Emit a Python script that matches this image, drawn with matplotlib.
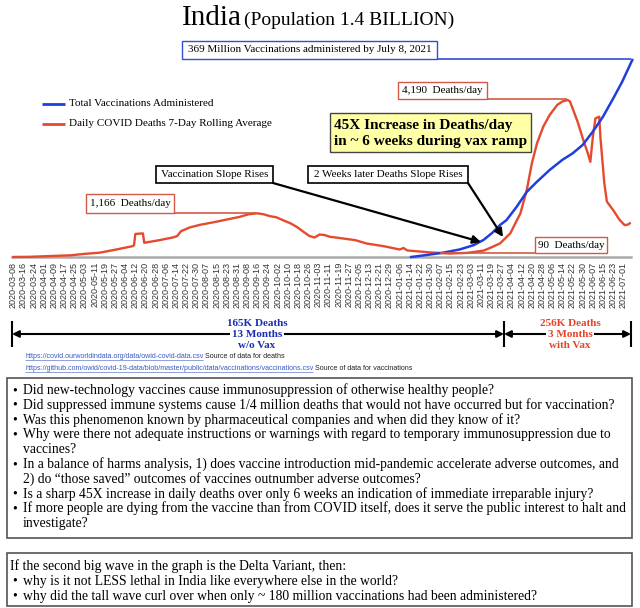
import numpy as np
import pandas as pd
import matplotlib
matplotlib.use("Agg")
import matplotlib.pyplot as plt
import matplotlib.dates as mdates
import matplotlib.transforms as mtransforms
from matplotlib.patches import Rectangle, FancyArrowPatch
from matplotlib.lines import Line2D

# ---------------- data ----------------
death_dates = [
    "2020-03-08", "2020-03-11", "2020-03-21", "2020-04-06", "2020-04-22", "2020-05-02",
    "2020-05-15", "2020-05-28", "2020-06-10", "2020-06-11", "2020-06-12", "2020-06-18",
    "2020-06-19", "2020-06-20", "2020-07-01", "2020-07-12", "2020-07-15", "2020-07-18",
    "2020-07-25", "2020-08-02", "2020-08-13", "2020-08-23", "2020-09-02", "2020-09-09",
    "2020-09-16", "2020-09-21", "2020-09-26", "2020-10-01", "2020-10-06", "2020-10-12",
    "2020-10-17", "2020-10-22", "2020-10-27", "2020-10-31", "2020-11-04", "2020-11-08",
    "2020-11-12", "2020-11-19", "2020-12-02", "2020-12-11", "2020-12-25", "2021-01-06",
    "2021-01-09", "2021-01-12", "2021-01-29", "2021-02-14", "2021-02-28", "2021-03-13",
    "2021-03-20", "2021-03-26", "2021-04-03", "2021-04-11", "2021-04-16", "2021-04-20",
    "2021-04-24", "2021-04-29", "2021-05-04", "2021-05-10", "2021-05-14", "2021-05-18",
    "2021-05-20", "2021-05-22", "2021-05-26", "2021-05-30", "2021-06-03", "2021-06-05",
    "2021-06-07", "2021-06-09", "2021-06-12", "2021-06-13", "2021-06-16", "2021-06-18",
    "2021-06-23", "2021-06-28", "2021-07-02", "2021-07-05", "2021-07-06",
]
death_values = [
    0, 2, 5, 25, 45, 80,
    115, 200, 290, 320, 615, 630,
    380, 385, 450, 525, 560, 690,
    790, 860, 930, 1000, 1070, 1140,
    1166, 1140, 1090, 1060, 985, 900,
    805, 680, 560, 520, 600, 585,
    540, 510, 450, 360, 285, 200,
    240, 175, 125, 92, 110, 170,
    270, 365, 630, 1166, 1790, 2500,
    3030, 3480, 3790, 4060, 4150, 4190,
    4150, 3970, 3610, 3170, 2770, 2540,
    3210, 3700, 3745, 3170, 1970, 1480,
    1250, 990, 850, 870, 900,
]
vax_dates = [
    "2021-01-15", "2021-01-27", "2021-02-09", "2021-02-22", "2021-03-05", "2021-03-13",
    "2021-03-20", "2021-03-26", "2021-03-31", "2021-04-08", "2021-04-16", "2021-04-24",
    "2021-05-04", "2021-05-14", "2021-05-22", "2021-05-30", "2021-06-07", "2021-06-15",
    "2021-06-23", "2021-06-30", "2021-07-08",
]
vax_millions = [
    0, 3.7, 8, 14, 22, 32,
    45.6, 60, 69, 94, 122, 141,
    163, 182, 194, 210, 235, 263,
    297, 328, 369,
]
tick_first, tick_last, tick_step = "2020-03-08", "2021-07-01", 8

title_main = "India"
title_sub = "(Population 1.4 BILLION)"
legend_labels = ["Total Vaccinations Administered", "Daily COVID Deaths 7-Day Rolling Average"]
bullets1 = [
    ("•", "Did new-technology vaccines cause immunosuppression of otherwise healthy people?"),
    ("•", "Did suppressed immune systems cause 1/4 million deaths that would not have occurred but for vaccination?"),
    ("•", "Was this phenomenon known by pharmaceutical companies and when did they know of it?"),
    ("•", "Why were there not adequate instructions or warnings with regard to temporary immunosuppression due to"),
    ("", "vaccines?"),
    ("•", "In a balance of harms analysis, 1) does vaccine introduction mid-pandemic accelerate adverse outcomes, and"),
    ("", "2) do \u201cthose saved\u201d outcomes of vaccines outnumber adverse outcomes?"),
    ("•", "Is a sharp 45X increase in daily deaths over only 6 weeks an indication of immediate irreparable injury?"),
    ("•", "If more people are dying from the vaccine than from COVID itself, does it serve the public interest to halt and"),
    ("", "investigate?"),
]
box2_head = "If the second big wave in the graph is the Delta Variant, then:"
bullets2 = [
    "why is it not LESS lethal in India like everywhere else in the world?",
    "why did the tall wave curl over when only ~ 180 million vaccinations had been administered?",
]

# ---------------- style ----------------
SERIF = ["Liberation Serif", "DejaVu Serif"]
SANS = ["Liberation Sans", "DejaVu Sans"]
RED = "#e64a2e"
RED_BOX = "#d25a44"
BLUE = "#1e3fdc"
BLUE_BOX = "#3050d0"
W, H = 640, 608

fig = plt.figure(figsize=(W / 100, H / 100), dpi=100)
px = mtransforms.Affine2D().scale(1 / W, -1 / H).translate(0, 1) + fig.transFigure

def txt(x, y, s, size, ha="left", va="center", color="k", weight="normal", family=SERIF, z=6, **kw):
    return fig.text(x, y, s, transform=px, fontsize=size, ha=ha, va=va, color=color,
                    fontweight=weight, family=family, zorder=z, **kw)

def rect(x0, y0, x1, y1, ec, fc="white", lw=1.0, z=5):
    fig.add_artist(Rectangle((x0, y0), x1 - x0, y1 - y0, transform=px, ec=ec, fc=fc, lw=lw, zorder=z))

def seg(xs, ys, color, lw, z=4):
    fig.add_artist(Line2D(xs, ys, transform=px, color=color, lw=lw, zorder=z, solid_capstyle="butt"))

def arrow(p0, p1, style="-|>", lw=1.6, ms=12, z=7):
    fig.add_artist(FancyArrowPatch(p0, p1, transform=px, arrowstyle=style, mutation_scale=ms,
                                   lw=lw, color="k", shrinkA=0, shrinkB=0, zorder=z))

# ---------------- main chart ----------------
x0_px, day_px = 13.3, 1.271
base = mdates.date2num(pd.Timestamp(tick_first))
ax = fig.add_axes([5 / W, 1 - 257 / H, 630 / W, 197 / H])
ax.set_xlim(base + (5 - x0_px) / day_px, base + (635 - x0_px) / day_px)
ax.set_ylim(0, 4190 * 197 / 157)
ax.patch.set_alpha(0)
for s in ax.spines.values():
    s.set_visible(False)
ax.set_yticks([])

ax2 = ax.twinx()
ax2.set_ylim(0, 369)
ax2.patch.set_alpha(0)
for s in ax2.spines.values():
    s.set_visible(False)
ax2.set_yticks([])

ddates = mdates.date2num(pd.to_datetime(death_dates))
vdates = mdates.date2num(pd.to_datetime(vax_dates))

ax.plot([base - 1, base + 486], [0, 0], color="#aaaaaa", lw=1.8, zorder=1, clip_on=False)
ax.plot(ddates, death_values, color=RED, lw=1.7, zorder=2, clip_on=False)
ax2.plot(vdates, vax_millions, color=BLUE, lw=1.8, zorder=3, clip_on=False)

ticks = pd.date_range(tick_first, tick_last, freq=f"{tick_step}D")
ax.set_xticks(mdates.date2num(ticks))
ax.set_xticklabels([t.strftime("%Y-%m-%d") for t in ticks], rotation=90,
                   fontsize=6.5, family=SANS, color="#333333")
ax.tick_params(axis="x", length=0, pad=3.6)

# ---------------- title ----------------
txt(182, 25, title_main, 21, va="baseline")
txt(244, 25, title_sub, 14, va="baseline")

# ---------------- annotation boxes ----------------
rect(182, 41, 437, 59, BLUE_BOX, lw=1.0)
txt(309.5, 50, "369 Million Vaccinations administered by July 8, 2021", 8, ha="center")
seg([437, 631], [59, 59], BLUE_BOX, 1.2)

rect(398, 82, 487, 99, RED_BOX, lw=1.0)
txt(442.5, 90.5, "4,190  Deaths/day", 8, ha="center")
seg([487, 567], [99, 99], RED_BOX, 1.2)

rect(86, 194, 174, 213, RED_BOX, lw=1.0)
txt(130, 203.5, "1,166  Deaths/day", 8, ha="center")
seg([174, 256], [213, 213], RED_BOX, 1.2)

rect(535, 237, 607, 253, RED_BOX, lw=1.0)
txt(571, 245, "90  Deaths/day", 8, ha="center")
seg([440, 535], [253, 253], RED_BOX, 1.2)

rect(330, 113, 531, 152, "#444444", fc="#ffffa6", lw=1.0)
txt(334, 125, "45X Increase in Deaths/day", 11, weight="bold")
txt(334, 142, "in ~ 6 weeks during vax ramp", 11, weight="bold")

rect(156, 166, 273, 183, "k", lw=1.2)
txt(214.5, 174.5, "Vaccination Slope Rises", 8, ha="center")
rect(308, 166, 468, 183, "k", lw=1.2)
txt(388, 174.5, "2 Weeks later Deaths Slope Rises", 8, ha="center")
arrow((273, 183), (481, 242))
arrow((468, 183), (503, 237))

# legend
seg([42, 65], [104, 104], BLUE, 2.0)
txt(69, 104, legend_labels[0], 8)
seg([42, 65], [124, 124], RED, 2.0)
txt(69, 124, legend_labels[1], 8)

# ---------------- period brackets ----------------
for xb in (12, 504, 631):
    seg([xb, xb], [321, 347], "k", 1.5)
arrow((504, 334), (12, 334), style="<|-|>", lw=1.5, ms=10, z=6)
arrow((504, 334), (631, 334), style="<|-|>", lw=1.5, ms=10, z=6)
BT = "#1a2db0"
RT = "#e2452b"
txt(257, 323, "165K Deaths", 8, ha="center", color=BT, weight="bold")
txt(257, 334.5, "13 Months", 8, ha="center", color=BT, weight="bold",
    bbox=dict(fc="white", ec="none", pad=1.5))
txt(257, 346, "w/o Vax", 8, ha="center", color=BT, weight="bold")
txt(570, 323, "256K Deaths", 8, ha="center", color=RT, weight="bold")
txt(570, 334.5, "3 Months", 8, ha="center", color=RT, weight="bold",
    bbox=dict(fc="white", ec="none", pad=1.5))
txt(570, 346, "with Vax", 8, ha="center", color=RT, weight="bold")

# ---------------- sources ----------------
src = [
    ("https://covid.ourworldindata.org/data/owid-covid-data.csv", " Source of data for deaths", 357),
    ("https://github.com/owid/covid-19-data/blob/master/public/data/vaccinations/vaccinations.csv",
     " Source of data for vaccinations", 369),
]
fig.canvas.draw()
rend = fig.canvas.get_renderer()
for url, rest, yy in src:
    t = txt(25, yy, url, 5.1, family=SANS, color="#3a5bc0")
    bb = t.get_window_extent(rend)
    x_end = bb.x1
    seg([25, x_end], [yy + 3.3, yy + 3.3], "#3a5bc0", 0.4)
    txt(x_end, yy, rest, 5.1, family=SANS, color="#222222")

# ---------------- question boxes ----------------
FS = 9.8
rect(7, 378, 632, 538, "#555555", lw=1.2, z=3)
L = 14.8
for i, (b, s) in enumerate(bullets1):
    yb = 390 + L * i + 4
    if b:
        txt(12, yb, b, FS, va="baseline")
    txt(23, yb, s, FS, va="baseline")

rect(7, 553, 632, 606, "#555555", lw=1.2, z=3)
txt(10, 566 + 4, box2_head, FS, va="baseline")
for i, s in enumerate(bullets2):
    yb = 566 + L * (i + 1) + 4
    txt(12, yb, "•", FS, va="baseline")
    txt(23, yb, s, FS, va="baseline")

fig.savefig("out.png", dpi=100)
